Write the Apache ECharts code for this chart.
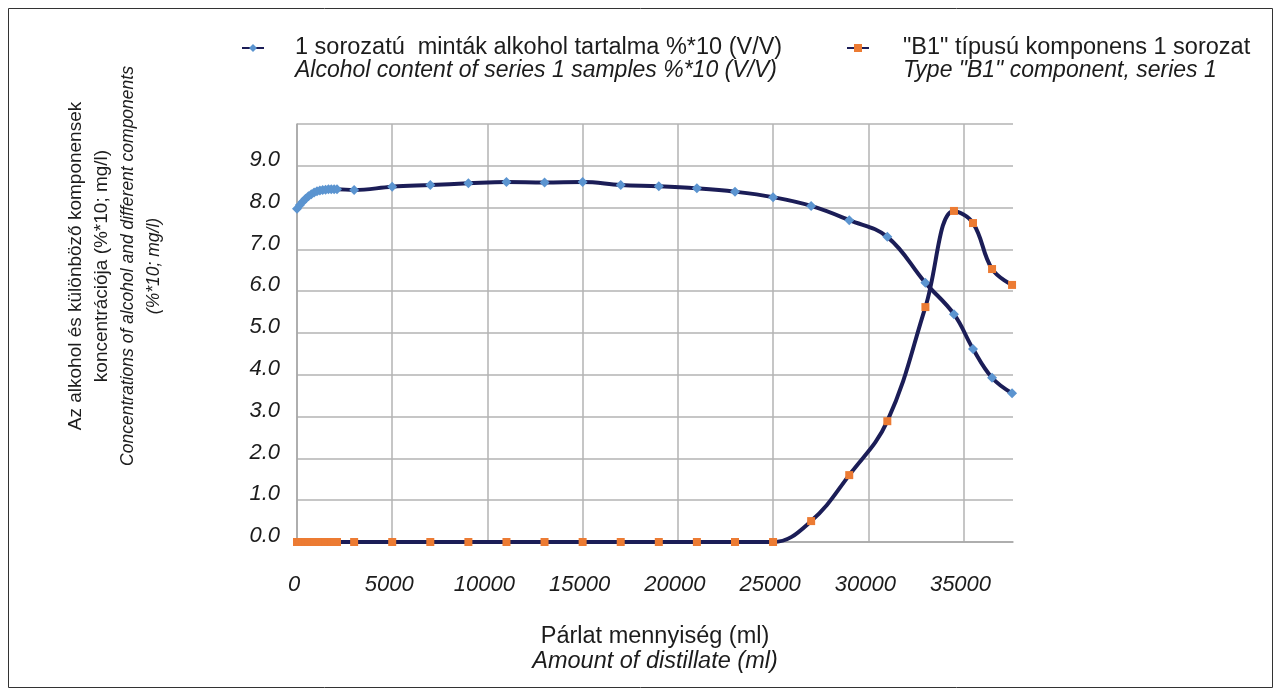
<!DOCTYPE html>
<html>
<head>
<meta charset="utf-8">
<script src="https://cdn.jsdelivr.net/npm/echarts@6/dist/echarts.min.js"></script>
<style>
html,body{margin:0;padding:0;background:#fff;}
#chart{width:1281px;height:695px;}
</style>
</head>
<body>
<div id="chart"></div>
<script>
// Distillate amount (ml) at each sample
const distillateMl = [0,150,300,450,600,750,900,1050,1200,1350,1500,1650,1800,1950,2100,
  3000,5000,7000,9000,11000,13000,15000,17000,19000,21000,23000,25000,
  27000,29000,31000,33000,34500,35500,36500,37550];
// Series 1: alcohol content %*10 (V/V)
const alcoholValues = [7.97,8.06,8.14,8.21,8.27,8.32,8.36,8.39,8.41,8.42,8.43,8.44,8.44,8.44,8.44,
  8.42,8.50,8.54,8.58,8.61,8.60,8.61,8.54,8.51,8.46,8.38,8.25,
  8.04,7.70,7.30,6.20,5.45,4.62,3.93,3.56];
// Series 2: "B1" component
const b1Values = [0,0,0,0,0,0,0,0,0,0,0,0,0,0,0,
  0,0,0,0,0,0,0,0,0,0,0,0,
  0.50,1.60,2.89,5.62,7.92,7.63,6.53,6.15];
const xTicks = [0,5000,10000,15000,20000,25000,30000,35000];
const yTicks = [0,1,2,3,4,5,6,7,8,9];

const seriesNames = ['1 sorozatú  minták alkohol tartalma %*10 (V/V)', '"B1" típusú komponens 1 sorozat'];
const seriesNamesEn = ['Alcohol content of series 1 samples %*10 (V/V)', 'Type "B1" component, series 1'];

const FONT = '"Liberation Sans", Arial, sans-serif';
const TXT = '#1c1c1c';
const LINE = '#1b1d57';

const toPairs = ys => distillateMl.map((x, i) => [x, ys[i]]);

const chart = echarts.init(document.getElementById('chart'), null, {renderer: 'canvas'});
chart.setOption({
  animation: false,
  backgroundColor: '#fff',
  grid: {left: 297, top: 124, right: 268, bottom: 153, containLabel: false},
  legend: [
    {left: 236, top: 31, data: [seriesNames[0]], itemWidth: 22, itemHeight: 10,
     textStyle: {fontFamily: FONT, fontSize: 23.5, color: TXT, padding: [0,0,0,26]}},
    {left: 841, top: 31, data: [seriesNames[1]], itemWidth: 22, itemHeight: 10,
     textStyle: {fontFamily: FONT, fontSize: 23.5, color: TXT, padding: [0,0,0,29]}}
  ],
  xAxis: {
    type: 'value', min: 0, max: 37600, interval: 5000,
    axisLine: {show: true, lineStyle: {color: '#a6a6a6', width: 1.5}},
    axisTick: {show: false},
    splitLine: {show: true, showMaxLine: false, lineStyle: {color: '#b3b3b3', width: 1.5}},
    axisLabel: {fontFamily: FONT, fontSize: 22, fontStyle: 'italic', color: TXT, margin: 32,
      padding: [0, 6, 0, 0],
      formatter: v => xTicks.includes(v) ? String(v) : ''},
    name: '{a|Párlat mennyiség (ml)}\n{b|Amount of distillate (ml)}',
    nameLocation: 'middle', nameGap: 82,
    nameTextStyle: {rich: {
      a: {fontFamily: FONT, fontSize: 23.5, color: TXT, lineHeight: 25},
      b: {fontFamily: FONT, fontSize: 23.5, color: TXT, fontStyle: 'italic', lineHeight: 25}
    }}
  },
  yAxis: {
    type: 'value', min: 0, max: 10, interval: 1,
    axisLine: {show: true, lineStyle: {color: '#a6a6a6', width: 1.5}},
    axisTick: {show: false},
    splitLine: {show: true, lineStyle: {color: '#b3b3b3', width: 1.5}},
    axisLabel: {fontFamily: FONT, fontSize: 22, fontStyle: 'italic', color: TXT, margin: 17,
      verticalAlign: 'bottom', lineHeight: 12,
      formatter: v => yTicks.includes(v) ? v.toFixed(1) : ''}
  },
  graphic: [
    {type: 'rect', shape: {x: 8.5, y: 8.5, width: 1264, height: 679},
     style: {fill: 'none', stroke: '#333', lineWidth: 1}, silent: true},
    {type: 'text', left: 295, top: 59, style: {text: seriesNamesEn[0], font: 'italic 23px ' + FONT, fill: TXT}},
    {type: 'text', left: 903, top: 59, style: {text: seriesNamesEn[1], font: 'italic 23px ' + FONT, fill: TXT}},
    {type: 'text', x: 115, y: 266, rotation: Math.PI / 2,
     style: {
       text: '{a|Az alkohol és különböző komponensek}\n{a|koncentrációja (%*10; mg/l)}\n{b|Concentrations of alcohol and different components}\n{b|(%*10; mg/l)}',
       align: 'center', verticalAlign: 'middle',
       rich: {
         a: {fontFamily: FONT, fontSize: 19, fill: TXT, lineHeight: 26, align: 'center'},
         b: {fontFamily: FONT, fontSize: 17.5, fill: TXT, fontStyle: 'italic', lineHeight: 26, align: 'center'}
       }
     }}
  ],
  series: [
    {name: seriesNames[0], type: 'line', smooth: 0.4, data: toPairs(alcoholValues),
     symbol: 'diamond', symbolSize: 10, showAllSymbol: true,
     lineStyle: {color: LINE, width: 4},
     itemStyle: {color: '#5b94d0', borderWidth: 0},
     z: 3},
    {name: seriesNames[1], type: 'line', smooth: 0.4, data: toPairs(b1Values),
     symbol: 'rect', symbolSize: 8, showAllSymbol: true,
     lineStyle: {color: LINE, width: 4},
     itemStyle: {color: '#ec7b33', borderWidth: 0},
     z: 4}
  ]
});
</script>
</body>
</html>
